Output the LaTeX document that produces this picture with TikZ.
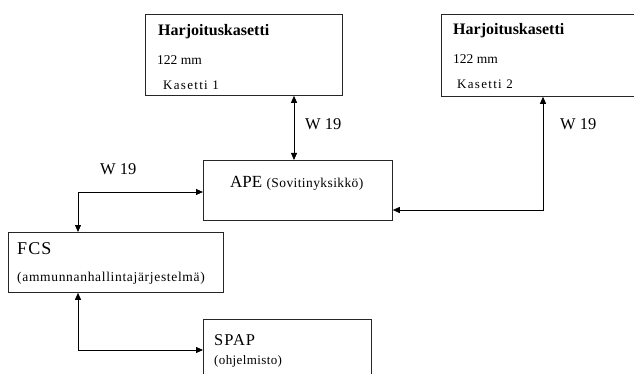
\documentclass[tikz,border=0pt]{standalone}
\usepackage{fontspec}
\setmainfont{Liberation Serif}
\newfontfamily\lsA{Liberation Serif}[LetterSpace=5]
\newfontfamily\lsB{Liberation Serif}[LetterSpace=10]
\newfontfamily\lsC{Liberation Serif}[LetterSpace=3]
\newfontfamily\lsD{Liberation Serif}[LetterSpace=6]
\usetikzlibrary{arrows.meta}
\begin{document}
\begin{tikzpicture}[x=1pt,y=-1pt,
  boxshape/.style={draw=black!85, line width=0.8pt, anchor=north west, inner sep=0pt},
  txt/.style={anchor=base west, inner sep=0pt},
  conn/.style={line width=0.8pt, {Triangle[length=7pt,width=6pt]}-{Triangle[length=7pt,width=6pt]}},
  ttl/.style={txt, font=\fontsize{16}{16}\selectfont\bfseries},
  mm/.style={txt, font=\fontsize{13.5}{13.5}\selectfont},
  kas/.style={txt, font=\lsB\fontsize{13}{13}\selectfont},
  wlab/.style={txt, font=\fontsize{16.5}{16.5}\selectfont}
]
\useasboundingbox (0,0) rectangle (634,374);
\clip (0,0) rectangle (634,374);
% boxes
\node[boxshape, minimum width=197pt, minimum height=81pt] (k1) at (145,14) {};
\node[boxshape, minimum width=205pt, minimum height=82pt] (k2) at (441,14) {};
\node[boxshape, minimum width=189pt, minimum height=60pt] (ape) at (203,160) {};
\node[boxshape, minimum width=215pt, minimum height=60pt] (fcs) at (8,232) {};
\node[boxshape, minimum width=168pt, minimum height=80pt] (spap) at (203,319) {};
% texts
\node[ttl] (k1t) at (158,36) {Harjoituskasetti};
\node[mm] (k1m) at (157,65) {122 mm};
\node[kas] (k1k) at (163,90) {Kasetti 1};
\node[ttl] (k2t) at (453,35) {Harjoituskasetti};
\node[mm] (k2m) at (453,64) {122 mm};
\node[kas] (k2k) at (457,89) {Kasetti 2};
\node[txt] (apet) at (230,187) {\fontsize{17}{17}\selectfont APE \lsC\fontsize{13.5}{13.5}\selectfont(Sovitinyksikkö)};
\node[txt, font=\lsD\fontsize{18}{18}\selectfont] (fcst) at (17,254) {FCS};
\node[txt, font=\lsA\fontsize{13.5}{13.5}\selectfont] (fcsd) at (17,281) {(ammunnanhallintajärjestelmä)};
\node[txt, font=\lsD\fontsize{16.5}{16.5}\selectfont] (spapt) at (214,345) {SPAP};
\node[txt, font=\lsC\fontsize{13}{13}\selectfont] (spapd) at (214,364) {(ohjelmisto)};
\node[wlab] (w1) at (100,175) {W 19};
\node[wlab] (w2) at (305,130) {W 19};
\node[wlab] (w3) at (560,130) {W 19};
% connectors
\coordinate (c1) at (294,0);
\coordinate (c2) at (543,210);
\coordinate (c3) at (78,192);
\coordinate (c4) at (78,350);
\draw[conn] (k1.south -| c1) -- (ape.north -| c1);
\draw[conn] (k2.south -| c2) -- (c2) -- (ape.east |- c2);
\draw[conn] (ape.west |- c3) -- (c3) -- (fcs.north -| c3);
\draw[conn] (fcs.south -| c4) -- (c4) -- (spap.west |- c4);
\end{tikzpicture}
\end{document}
